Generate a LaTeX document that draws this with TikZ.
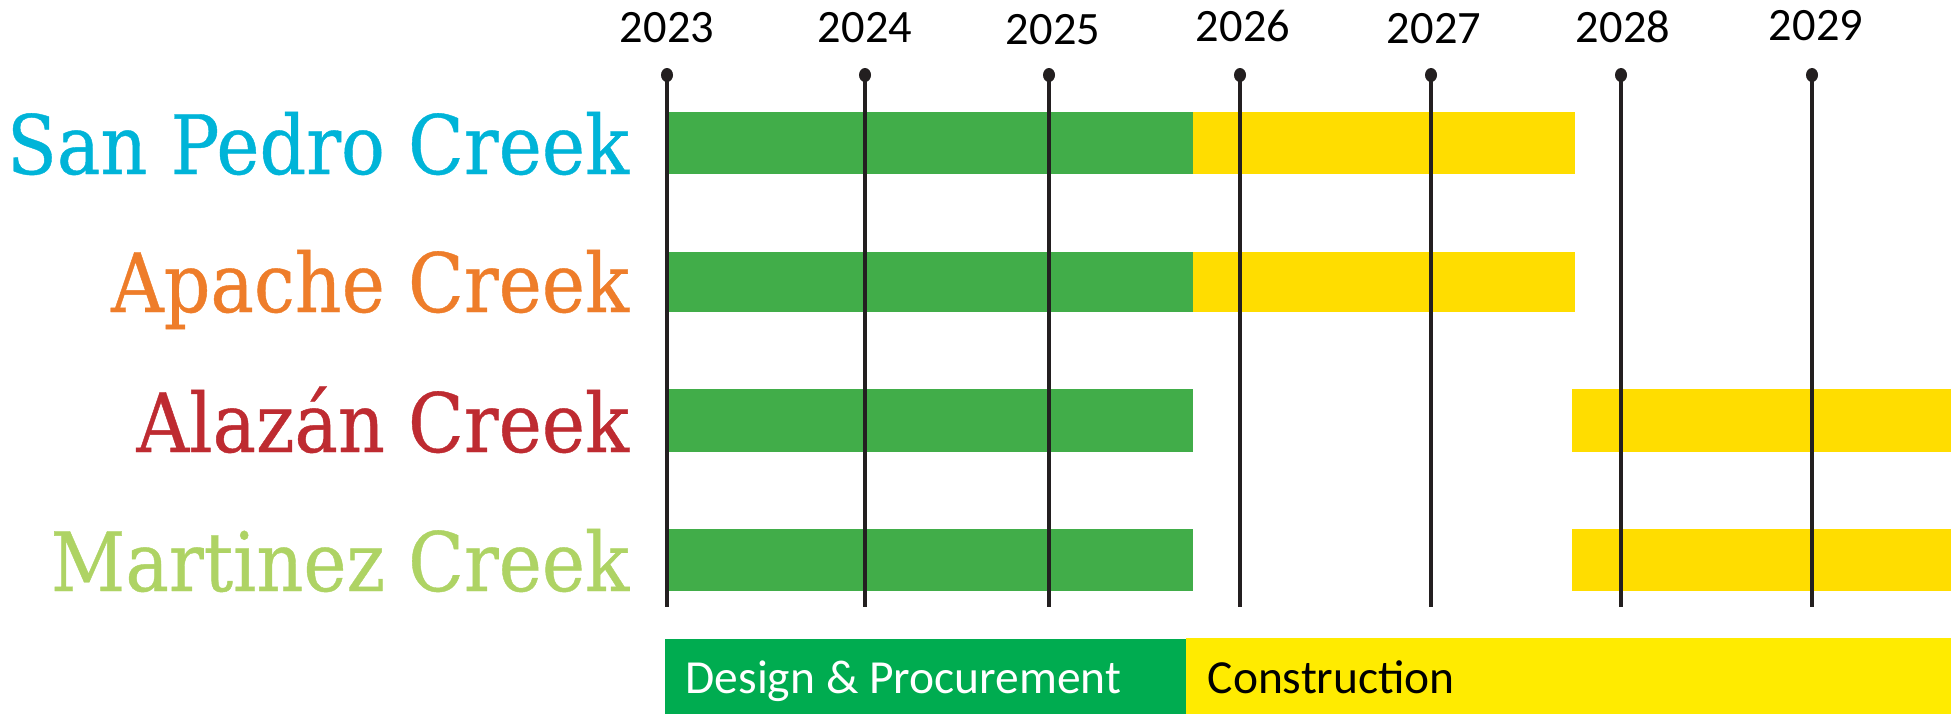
\documentclass[tikz,border=0pt]{standalone}
\usepackage{fontspec}
\setmainfont{Carlito}
\newfontfamily\creekfont[FakeStretch=0.89, FakeBold=0.5]{DejaVu Serif}
\usetikzlibrary{positioning,shapes.geometric}

\definecolor{barGreen}{RGB}{65,173,73}
\definecolor{barYellow}{RGB}{255,221,0}
\definecolor{keyGreen}{RGB}{0,172,80}
\definecolor{keyYellow}{RGB}{255,235,0}
\definecolor{lineBlack}{RGB}{35,31,32}
\definecolor{sanPedro}{RGB}{0,180,216}
\definecolor{apache}{RGB}{238,125,42}
\definecolor{alazan}{RGB}{190,43,49}
\definecolor{martinez}{RGB}{174,211,100}

\tikzset{
  year/.style={font=\fontsize{13.2}{15}\selectfont, inner sep=0pt},
  yearline/.style={draw=lineBlack, line width=1.3pt},
  yeardot/.style={fill=lineBlack, ellipse, minimum width=0.12cm, minimum height=0.14cm, inner sep=0pt},
  creek/.style={font=\creekfont\fontsize{23.3}{26}\selectfont, anchor=base east, inner sep=0pt},
  keytext/.style={font=\fontsize{13.5}{16}\selectfont, anchor=base west, inner sep=0pt}
}

\begin{document}
\begin{tikzpicture}[x=0.01cm, y=-0.01cm]
\useasboundingbox (0,0) rectangle (1951,714);

% bars
\fill[barGreen] (669,112) rectangle (1193,174);
\fill[barYellow] (1193,112) rectangle (1575,174);
\fill[barGreen] (669,252) rectangle (1193,312);
\fill[barYellow] (1193,252) rectangle (1575,312);
\fill[barGreen] (669,389) rectangle (1193,452);
\fill[barYellow] (1572,389) rectangle (1951,452);
\fill[barGreen] (669,529) rectangle (1193,591);
\fill[barYellow] (1572,529) rectangle (1951,591);

% year lines
\node[year] (y2023) at (667,28) {2023};
\node[year] (y2024) at (865,28) {2024};
\node[year] (y2025) at (1053,30) {2025};
\node[year] (y2026) at (1243,26) {2026};
\node[year] (y2027) at (1434,29) {2027};
\node[year] (y2028) at (1623,27) {2028};
\node[year] (y2029) at (1816,26) {2029};

\coordinate (t2023) at (667,75); \coordinate (b2023) at (667,607);
\coordinate (t2024) at (865,75); \coordinate (b2024) at (865,607);
\coordinate (t2025) at (1049,75); \coordinate (b2025) at (1049,607);
\coordinate (t2026) at (1240,75); \coordinate (b2026) at (1240,607);
\coordinate (t2027) at (1431,75); \coordinate (b2027) at (1431,607);
\coordinate (t2028) at (1621,75); \coordinate (b2028) at (1621,607);
\coordinate (t2029) at (1812,75); \coordinate (b2029) at (1812,607);

\draw[yearline] (t2023) -- (b2023);
\draw[yearline] (t2024) -- (b2024);
\draw[yearline] (t2025) -- (b2025);
\draw[yearline] (t2026) -- (b2026);
\draw[yearline] (t2027) -- (b2027);
\draw[yearline] (t2028) -- (b2028);
\draw[yearline] (t2029) -- (b2029);

\node[yeardot] (p2023) at (t2023) {};
\node[yeardot] (p2024) at (t2024) {};
\node[yeardot] (p2025) at (t2025) {};
\node[yeardot] (p2026) at (t2026) {};
\node[yeardot] (p2027) at (t2027) {};
\node[yeardot] (p2028) at (t2028) {};
\node[yeardot] (p2029) at (t2029) {};

% creek names
\node[creek, text=sanPedro] (SP) at (630,174) {San Pedro Creek};
\node[creek, text=apache] (AP) at (630,312) {Apache Creek};
\node[creek, text=alazan] (AL) at (630,452) {Alazán Creek};
\node[creek, text=martinez] (MA) at (630,591) {Martinez Creek};

% legend
\fill[keyGreen] (665,639) rectangle (1186,714);
\fill[keyYellow] (1186,638) rectangle (1951,714);
\node[keytext, text=white] (KD) at (685,693) {Design \& Procurement};
\node[keytext, text=black] (KC) at (1207,693) {Construction};

\end{tikzpicture}
\end{document}
